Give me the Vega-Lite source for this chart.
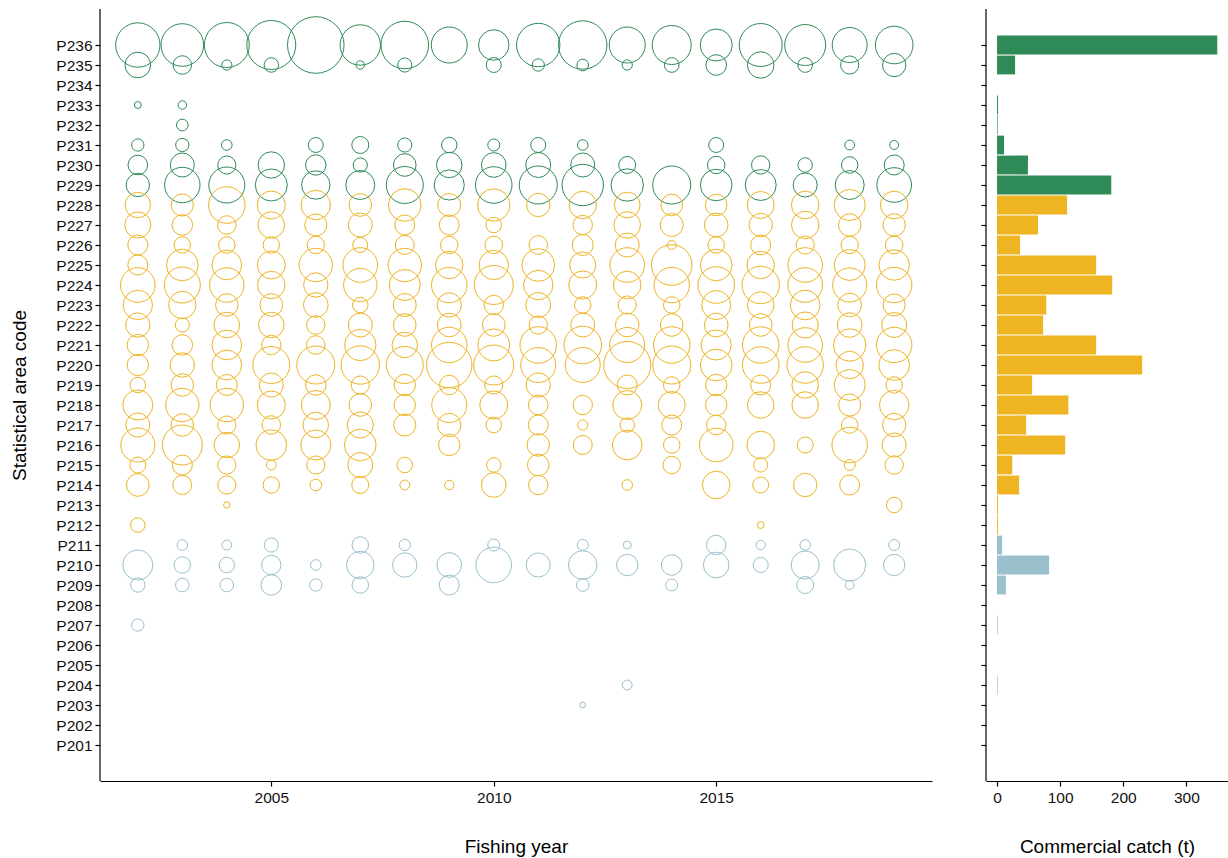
{
  "$schema": "https://vega.github.io/schema/vega-lite/v6.json",
  "background": "white",
  "padding": {"left": 10, "top": 8, "right": 1, "bottom": 1},
  "config": {
    "font": "Liberation Sans",
    "view": {"stroke": null},
    "axis": {
      "domainColor": "#000", "domainWidth": 1.2, "tickColor": "#000", "tickSize": 5, "tickWidth": 1.2,
      "labelColor": "#111", "labelFontSize": 15.5, "titleFontSize": 19, "titleFontWeight": "normal",
      "titleColor": "#000", "grid": false, "labelFont": "Liberation Sans", "titleFont": "Liberation Sans"
    }
  },
  "datasets": {
    "areas": [
      {"area": "P236", "total": 349, "g": "P229–P236"},
      {"area": "P235", "total": 28.6, "g": "P229–P236"},
      {"area": "P233", "total": 1.6, "g": "P229–P236"},
      {"area": "P232", "total": 1.0, "g": "P229–P236"},
      {"area": "P231", "total": 11, "g": "P229–P236"},
      {"area": "P230", "total": 49, "g": "P229–P236"},
      {"area": "P229", "total": 181, "g": "P229–P236"},
      {"area": "P228", "total": 111, "g": "P212–P228"},
      {"area": "P227", "total": 65, "g": "P212–P228"},
      {"area": "P226", "total": 36.5, "g": "P212–P228"},
      {"area": "P225", "total": 157, "g": "P212–P228"},
      {"area": "P224", "total": 182.5, "g": "P212–P228"},
      {"area": "P223", "total": 78, "g": "P212–P228"},
      {"area": "P222", "total": 73, "g": "P212–P228"},
      {"area": "P221", "total": 157, "g": "P212–P228"},
      {"area": "P220", "total": 230, "g": "P212–P228"},
      {"area": "P219", "total": 55.5, "g": "P212–P228"},
      {"area": "P218", "total": 113, "g": "P212–P228"},
      {"area": "P217", "total": 46, "g": "P212–P228"},
      {"area": "P216", "total": 108, "g": "P212–P228"},
      {"area": "P215", "total": 24, "g": "P212–P228"},
      {"area": "P214", "total": 35, "g": "P212–P228"},
      {"area": "P213", "total": 1.5, "g": "P212–P228"},
      {"area": "P212", "total": 1.5, "g": "P212–P228"},
      {"area": "P211", "total": 8, "g": "P201–P211"},
      {"area": "P210", "total": 82.5, "g": "P201–P211"},
      {"area": "P209", "total": 14, "g": "P201–P211"},
      {"area": "P207", "total": 1, "g": "P201–P211"},
      {"area": "P204", "total": 1, "g": "P201–P211"},
      {"area": "P203", "total": 0, "g": "P201–P211"}
    ],
    "annual": [
      {"year": 2002, "area": "P236", "catch": 24.6}, {"year": 2003, "area": "P236", "catch": 22.7}, {"year": 2004, "area": "P236", "catch": 25.3}, {"year": 2005, "area": "P236", "catch": 30.0}, {"year": 2006, "area": "P236", "catch": 40.0}, {"year": 2007, "area": "P236", "catch": 20.4}, {"year": 2008, "area": "P236", "catch": 28.3}, {"year": 2009, "area": "P236", "catch": 16.2}, {"year": 2010, "area": "P236", "catch": 11.6}, {"year": 2011, "area": "P236", "catch": 23.5}, {"year": 2012, "area": "P236", "catch": 29.3}, {"year": 2013, "area": "P236", "catch": 16.2}, {"year": 2014, "area": "P236", "catch": 19.0}, {"year": 2015, "area": "P236", "catch": 12.8}, {"year": 2016, "area": "P236", "catch": 23.1}, {"year": 2017, "area": "P236", "catch": 21.0}, {"year": 2018, "area": "P236", "catch": 15.3}, {"year": 2019, "area": "P236", "catch": 17.7},
      {"year": 2002, "area": "P235", "catch": 8.2}, {"year": 2003, "area": "P235", "catch": 4.3}, {"year": 2004, "area": "P235", "catch": 1.3}, {"year": 2005, "area": "P235", "catch": 2.6}, {"year": 2007, "area": "P235", "catch": 0.9}, {"year": 2008, "area": "P235", "catch": 2.5}, {"year": 2010, "area": "P235", "catch": 2.8}, {"year": 2011, "area": "P235", "catch": 1.9}, {"year": 2012, "area": "P235", "catch": 1.7}, {"year": 2013, "area": "P235", "catch": 1.3}, {"year": 2014, "area": "P235", "catch": 2.7}, {"year": 2015, "area": "P235", "catch": 5.3}, {"year": 2016, "area": "P235", "catch": 8.8}, {"year": 2017, "area": "P235", "catch": 2.7}, {"year": 2018, "area": "P235", "catch": 4.1}, {"year": 2019, "area": "P235", "catch": 6.8},
      {"year": 2002, "area": "P233", "catch": 0.6}, {"year": 2003, "area": "P233", "catch": 0.9},
      {"year": 2003, "area": "P232", "catch": 1.7},
      {"year": 2002, "area": "P231", "catch": 1.9}, {"year": 2003, "area": "P231", "catch": 2.2}, {"year": 2004, "area": "P231", "catch": 1.4}, {"year": 2006, "area": "P231", "catch": 2.8}, {"year": 2007, "area": "P231", "catch": 3.6}, {"year": 2008, "area": "P231", "catch": 2.5}, {"year": 2009, "area": "P231", "catch": 3.0}, {"year": 2010, "area": "P231", "catch": 1.8}, {"year": 2011, "area": "P231", "catch": 2.8}, {"year": 2012, "area": "P231", "catch": 1.4}, {"year": 2015, "area": "P231", "catch": 2.8}, {"year": 2018, "area": "P231", "catch": 1.2}, {"year": 2019, "area": "P231", "catch": 1.0},
      {"year": 2002, "area": "P230", "catch": 4.8}, {"year": 2003, "area": "P230", "catch": 7.2}, {"year": 2004, "area": "P230", "catch": 4.1}, {"year": 2005, "area": "P230", "catch": 8.7}, {"year": 2006, "area": "P230", "catch": 5.2}, {"year": 2007, "area": "P230", "catch": 2.5}, {"year": 2008, "area": "P230", "catch": 6.4}, {"year": 2009, "area": "P230", "catch": 8.1}, {"year": 2010, "area": "P230", "catch": 7.6}, {"year": 2011, "area": "P230", "catch": 7.8}, {"year": 2012, "area": "P230", "catch": 7.2}, {"year": 2013, "area": "P230", "catch": 3.6}, {"year": 2015, "area": "P230", "catch": 3.8}, {"year": 2016, "area": "P230", "catch": 4.2}, {"year": 2017, "area": "P230", "catch": 2.6}, {"year": 2018, "area": "P230", "catch": 3.4}, {"year": 2019, "area": "P230", "catch": 5.0},
      {"year": 2002, "area": "P229", "catch": 6.8}, {"year": 2003, "area": "P229", "catch": 15.7}, {"year": 2004, "area": "P229", "catch": 16.2}, {"year": 2005, "area": "P229", "catch": 12.8}, {"year": 2006, "area": "P229", "catch": 10.1}, {"year": 2007, "area": "P229", "catch": 10.5}, {"year": 2008, "area": "P229", "catch": 17.1}, {"year": 2009, "area": "P229", "catch": 11.3}, {"year": 2010, "area": "P229", "catch": 16.7}, {"year": 2011, "area": "P229", "catch": 18.1}, {"year": 2012, "area": "P229", "catch": 21.4}, {"year": 2013, "area": "P229", "catch": 13.1}, {"year": 2014, "area": "P229", "catch": 18.1}, {"year": 2015, "area": "P229", "catch": 12.5}, {"year": 2016, "area": "P229", "catch": 12.0}, {"year": 2017, "area": "P229", "catch": 7.2}, {"year": 2018, "area": "P229", "catch": 10.5}, {"year": 2019, "area": "P229", "catch": 15.0},
      {"year": 2002, "area": "P228", "catch": 8.1}, {"year": 2003, "area": "P228", "catch": 6.1}, {"year": 2004, "area": "P228", "catch": 16.7}, {"year": 2005, "area": "P228", "catch": 9.8}, {"year": 2006, "area": "P228", "catch": 10.8}, {"year": 2007, "area": "P228", "catch": 6.4}, {"year": 2008, "area": "P228", "catch": 13.3}, {"year": 2009, "area": "P228", "catch": 6.6}, {"year": 2010, "area": "P228", "catch": 13.1}, {"year": 2011, "area": "P228", "catch": 6.8}, {"year": 2012, "area": "P228", "catch": 9.4}, {"year": 2013, "area": "P228", "catch": 8.2}, {"year": 2014, "area": "P228", "catch": 5.8}, {"year": 2015, "area": "P228", "catch": 5.8}, {"year": 2016, "area": "P228", "catch": 9.1}, {"year": 2017, "area": "P228", "catch": 9.5}, {"year": 2018, "area": "P228", "catch": 12.0}, {"year": 2019, "area": "P228", "catch": 9.5},
      {"year": 2002, "area": "P227", "catch": 8.5}, {"year": 2003, "area": "P227", "catch": 5.3}, {"year": 2004, "area": "P227", "catch": 4.3}, {"year": 2005, "area": "P227", "catch": 8.8}, {"year": 2006, "area": "P227", "catch": 6.1}, {"year": 2007, "area": "P227", "catch": 7.2}, {"year": 2008, "area": "P227", "catch": 5.0}, {"year": 2009, "area": "P227", "catch": 5.0}, {"year": 2010, "area": "P227", "catch": 3.0}, {"year": 2012, "area": "P227", "catch": 4.7}, {"year": 2013, "area": "P227", "catch": 8.8}, {"year": 2014, "area": "P227", "catch": 6.6}, {"year": 2015, "area": "P227", "catch": 7.0}, {"year": 2016, "area": "P227", "catch": 6.8}, {"year": 2017, "area": "P227", "catch": 9.4}, {"year": 2018, "area": "P227", "catch": 6.3}, {"year": 2019, "area": "P227", "catch": 6.3},
      {"year": 2002, "area": "P226", "catch": 5.0}, {"year": 2003, "area": "P226", "catch": 3.4}, {"year": 2004, "area": "P226", "catch": 3.4}, {"year": 2005, "area": "P226", "catch": 3.4}, {"year": 2006, "area": "P226", "catch": 3.8}, {"year": 2007, "area": "P226", "catch": 2.8}, {"year": 2008, "area": "P226", "catch": 4.5}, {"year": 2009, "area": "P226", "catch": 3.8}, {"year": 2010, "area": "P226", "catch": 3.9}, {"year": 2011, "area": "P226", "catch": 4.3}, {"year": 2012, "area": "P226", "catch": 5.5}, {"year": 2013, "area": "P226", "catch": 7.2}, {"year": 2014, "area": "P226", "catch": 1.0}, {"year": 2015, "area": "P226", "catch": 3.4}, {"year": 2016, "area": "P226", "catch": 5.0}, {"year": 2017, "area": "P226", "catch": 4.1}, {"year": 2018, "area": "P226", "catch": 3.8}, {"year": 2019, "area": "P226", "catch": 3.9},
      {"year": 2002, "area": "P225", "catch": 5.0}, {"year": 2003, "area": "P225", "catch": 12.5}, {"year": 2004, "area": "P225", "catch": 11.0}, {"year": 2005, "area": "P225", "catch": 9.8}, {"year": 2006, "area": "P225", "catch": 13.9}, {"year": 2007, "area": "P225", "catch": 15.0}, {"year": 2008, "area": "P225", "catch": 13.9}, {"year": 2009, "area": "P225", "catch": 9.4}, {"year": 2010, "area": "P225", "catch": 10.8}, {"year": 2011, "area": "P225", "catch": 13.3}, {"year": 2012, "area": "P225", "catch": 8.5}, {"year": 2013, "area": "P225", "catch": 15.0}, {"year": 2014, "area": "P225", "catch": 20.6}, {"year": 2015, "area": "P225", "catch": 12.5}, {"year": 2016, "area": "P225", "catch": 9.4}, {"year": 2017, "area": "P225", "catch": 15.0}, {"year": 2018, "area": "P225", "catch": 12.0}, {"year": 2019, "area": "P225", "catch": 11.6},
      {"year": 2002, "area": "P224", "catch": 15.0}, {"year": 2003, "area": "P224", "catch": 16.2}, {"year": 2004, "area": "P224", "catch": 14.8}, {"year": 2005, "area": "P224", "catch": 9.4}, {"year": 2006, "area": "P224", "catch": 7.4}, {"year": 2007, "area": "P224", "catch": 13.9}, {"year": 2008, "area": "P224", "catch": 12.0}, {"year": 2009, "area": "P224", "catch": 15.7}, {"year": 2010, "area": "P224", "catch": 19.0}, {"year": 2011, "area": "P224", "catch": 10.8}, {"year": 2012, "area": "P224", "catch": 9.8}, {"year": 2013, "area": "P224", "catch": 9.5}, {"year": 2014, "area": "P224", "catch": 15.7}, {"year": 2015, "area": "P224", "catch": 16.7}, {"year": 2016, "area": "P224", "catch": 17.5}, {"year": 2017, "area": "P224", "catch": 15.0}, {"year": 2018, "area": "P224", "catch": 14.5}, {"year": 2019, "area": "P224", "catch": 15.7},
      {"year": 2002, "area": "P223", "catch": 10.8}, {"year": 2003, "area": "P223", "catch": 9.4}, {"year": 2004, "area": "P223", "catch": 6.3}, {"year": 2005, "area": "P223", "catch": 6.4}, {"year": 2006, "area": "P223", "catch": 7.6}, {"year": 2007, "area": "P223", "catch": 3.0}, {"year": 2008, "area": "P223", "catch": 6.6}, {"year": 2009, "area": "P223", "catch": 7.4}, {"year": 2010, "area": "P223", "catch": 4.7}, {"year": 2011, "area": "P223", "catch": 7.8}, {"year": 2012, "area": "P223", "catch": 3.4}, {"year": 2013, "area": "P223", "catch": 4.1}, {"year": 2014, "area": "P223", "catch": 3.4}, {"year": 2015, "area": "P223", "catch": 10.5}, {"year": 2016, "area": "P223", "catch": 8.8}, {"year": 2017, "area": "P223", "catch": 11.0}, {"year": 2018, "area": "P223", "catch": 7.0}, {"year": 2019, "area": "P223", "catch": 6.1},
      {"year": 2002, "area": "P222", "catch": 7.4}, {"year": 2003, "area": "P222", "catch": 2.5}, {"year": 2004, "area": "P222", "catch": 8.2}, {"year": 2005, "area": "P222", "catch": 8.1}, {"year": 2006, "area": "P222", "catch": 4.3}, {"year": 2007, "area": "P222", "catch": 7.2}, {"year": 2008, "area": "P222", "catch": 6.4}, {"year": 2009, "area": "P222", "catch": 7.0}, {"year": 2010, "area": "P222", "catch": 6.4}, {"year": 2011, "area": "P222", "catch": 4.2}, {"year": 2012, "area": "P222", "catch": 7.2}, {"year": 2013, "area": "P222", "catch": 7.0}, {"year": 2014, "area": "P222", "catch": 6.4}, {"year": 2015, "area": "P222", "catch": 7.0}, {"year": 2016, "area": "P222", "catch": 6.4}, {"year": 2017, "area": "P222", "catch": 8.5}, {"year": 2018, "area": "P222", "catch": 7.6}, {"year": 2019, "area": "P222", "catch": 7.8},
      {"year": 2002, "area": "P221", "catch": 5.7}, {"year": 2003, "area": "P221", "catch": 5.3}, {"year": 2004, "area": "P221", "catch": 11.0}, {"year": 2005, "area": "P221", "catch": 4.7}, {"year": 2006, "area": "P221", "catch": 4.3}, {"year": 2007, "area": "P221", "catch": 12.3}, {"year": 2008, "area": "P221", "catch": 8.1}, {"year": 2009, "area": "P221", "catch": 15.7}, {"year": 2010, "area": "P221", "catch": 12.8}, {"year": 2011, "area": "P221", "catch": 16.7}, {"year": 2012, "area": "P221", "catch": 17.7}, {"year": 2013, "area": "P221", "catch": 15.3}, {"year": 2014, "area": "P221", "catch": 16.7}, {"year": 2015, "area": "P221", "catch": 11.3}, {"year": 2016, "area": "P221", "catch": 16.6}, {"year": 2017, "area": "P221", "catch": 15.0}, {"year": 2018, "area": "P221", "catch": 13.1}, {"year": 2019, "area": "P221", "catch": 15.7},
      {"year": 2002, "area": "P220", "catch": 5.7}, {"year": 2003, "area": "P220", "catch": 7.4}, {"year": 2004, "area": "P220", "catch": 11.0}, {"year": 2005, "area": "P220", "catch": 17.1}, {"year": 2006, "area": "P220", "catch": 18.1}, {"year": 2007, "area": "P220", "catch": 18.4}, {"year": 2008, "area": "P220", "catch": 17.1}, {"year": 2009, "area": "P220", "catch": 25.8}, {"year": 2010, "area": "P220", "catch": 20.0}, {"year": 2011, "area": "P220", "catch": 15.3}, {"year": 2012, "area": "P220", "catch": 15.3}, {"year": 2013, "area": "P220", "catch": 27.6}, {"year": 2014, "area": "P220", "catch": 18.1}, {"year": 2015, "area": "P220", "catch": 12.5}, {"year": 2016, "area": "P220", "catch": 16.7}, {"year": 2017, "area": "P220", "catch": 16.7}, {"year": 2018, "area": "P220", "catch": 9.4}, {"year": 2019, "area": "P220", "catch": 11.7},
      {"year": 2002, "area": "P219", "catch": 3.0}, {"year": 2003, "area": "P219", "catch": 6.3}, {"year": 2004, "area": "P219", "catch": 5.5}, {"year": 2005, "area": "P219", "catch": 7.2}, {"year": 2006, "area": "P219", "catch": 5.2}, {"year": 2007, "area": "P219", "catch": 4.1}, {"year": 2008, "area": "P219", "catch": 5.7}, {"year": 2009, "area": "P219", "catch": 4.7}, {"year": 2010, "area": "P219", "catch": 4.1}, {"year": 2011, "area": "P219", "catch": 7.4}, {"year": 2013, "area": "P219", "catch": 5.0}, {"year": 2014, "area": "P219", "catch": 3.4}, {"year": 2015, "area": "P219", "catch": 5.7}, {"year": 2016, "area": "P219", "catch": 5.0}, {"year": 2017, "area": "P219", "catch": 8.8}, {"year": 2018, "area": "P219", "catch": 12.0}, {"year": 2019, "area": "P219", "catch": 3.4},
      {"year": 2002, "area": "P218", "catch": 11.3}, {"year": 2003, "area": "P218", "catch": 13.9}, {"year": 2004, "area": "P218", "catch": 13.9}, {"year": 2005, "area": "P218", "catch": 9.8}, {"year": 2006, "area": "P218", "catch": 10.5}, {"year": 2007, "area": "P218", "catch": 6.4}, {"year": 2008, "area": "P218", "catch": 5.7}, {"year": 2009, "area": "P218", "catch": 15.3}, {"year": 2010, "area": "P218", "catch": 9.8}, {"year": 2011, "area": "P218", "catch": 4.8}, {"year": 2012, "area": "P218", "catch": 4.7}, {"year": 2013, "area": "P218", "catch": 10.5}, {"year": 2014, "area": "P218", "catch": 9.1}, {"year": 2015, "area": "P218", "catch": 5.7}, {"year": 2016, "area": "P218", "catch": 8.8}, {"year": 2017, "area": "P218", "catch": 8.8}, {"year": 2018, "area": "P218", "catch": 6.1}, {"year": 2019, "area": "P218", "catch": 10.8},
      {"year": 2002, "area": "P217", "catch": 7.2}, {"year": 2003, "area": "P217", "catch": 6.3}, {"year": 2004, "area": "P217", "catch": 4.1}, {"year": 2005, "area": "P217", "catch": 4.3}, {"year": 2006, "area": "P217", "catch": 8.1}, {"year": 2007, "area": "P217", "catch": 8.5}, {"year": 2008, "area": "P217", "catch": 6.1}, {"year": 2009, "area": "P217", "catch": 6.8}, {"year": 2010, "area": "P217", "catch": 3.0}, {"year": 2011, "area": "P217", "catch": 5.0}, {"year": 2012, "area": "P217", "catch": 1.3}, {"year": 2013, "area": "P217", "catch": 2.6}, {"year": 2014, "area": "P217", "catch": 5.0}, {"year": 2015, "area": "P217", "catch": 4.7}, {"year": 2018, "area": "P217", "catch": 3.4}, {"year": 2019, "area": "P217", "catch": 6.8},
      {"year": 2002, "area": "P216", "catch": 14.5}, {"year": 2003, "area": "P216", "catch": 20.0}, {"year": 2004, "area": "P216", "catch": 8.1}, {"year": 2005, "area": "P216", "catch": 11.7}, {"year": 2006, "area": "P216", "catch": 11.3}, {"year": 2007, "area": "P216", "catch": 12.5}, {"year": 2009, "area": "P216", "catch": 5.7}, {"year": 2011, "area": "P216", "catch": 6.3}, {"year": 2012, "area": "P216", "catch": 4.5}, {"year": 2013, "area": "P216", "catch": 11.0}, {"year": 2014, "area": "P216", "catch": 3.4}, {"year": 2015, "area": "P216", "catch": 14.1}, {"year": 2016, "area": "P216", "catch": 9.5}, {"year": 2017, "area": "P216", "catch": 3.2}, {"year": 2018, "area": "P216", "catch": 15.7}, {"year": 2019, "area": "P216", "catch": 7.2},
      {"year": 2002, "area": "P215", "catch": 3.2}, {"year": 2003, "area": "P215", "catch": 5.0}, {"year": 2004, "area": "P215", "catch": 4.1}, {"year": 2005, "area": "P215", "catch": 1.2}, {"year": 2006, "area": "P215", "catch": 4.1}, {"year": 2007, "area": "P215", "catch": 7.8}, {"year": 2008, "area": "P215", "catch": 3.0}, {"year": 2010, "area": "P215", "catch": 2.6}, {"year": 2011, "area": "P215", "catch": 5.8}, {"year": 2014, "area": "P215", "catch": 3.8}, {"year": 2016, "area": "P215", "catch": 2.5}, {"year": 2018, "area": "P215", "catch": 1.5}, {"year": 2019, "area": "P215", "catch": 4.2},
      {"year": 2002, "area": "P214", "catch": 6.4}, {"year": 2003, "area": "P214", "catch": 4.5}, {"year": 2004, "area": "P214", "catch": 4.1}, {"year": 2005, "area": "P214", "catch": 3.4}, {"year": 2006, "area": "P214", "catch": 1.7}, {"year": 2007, "area": "P214", "catch": 3.6}, {"year": 2008, "area": "P214", "catch": 1.2}, {"year": 2009, "area": "P214", "catch": 1.1}, {"year": 2010, "area": "P214", "catch": 7.6}, {"year": 2011, "area": "P214", "catch": 4.7}, {"year": 2013, "area": "P214", "catch": 1.4}, {"year": 2015, "area": "P214", "catch": 9.5}, {"year": 2016, "area": "P214", "catch": 3.2}, {"year": 2017, "area": "P214", "catch": 6.8}, {"year": 2018, "area": "P214", "catch": 5.0},
      {"year": 2004, "area": "P213", "catch": 0.5}, {"year": 2019, "area": "P213", "catch": 3.0},
      {"year": 2002, "area": "P212", "catch": 2.6}, {"year": 2016, "area": "P212", "catch": 0.6},
      {"year": 2003, "area": "P211", "catch": 1.4}, {"year": 2004, "area": "P211", "catch": 1.2}, {"year": 2005, "area": "P211", "catch": 2.5}, {"year": 2007, "area": "P211", "catch": 3.4}, {"year": 2008, "area": "P211", "catch": 1.6}, {"year": 2010, "area": "P211", "catch": 1.8}, {"year": 2012, "area": "P211", "catch": 1.5}, {"year": 2013, "area": "P211", "catch": 0.8}, {"year": 2015, "area": "P211", "catch": 4.7}, {"year": 2016, "area": "P211", "catch": 1.1}, {"year": 2017, "area": "P211", "catch": 1.4}, {"year": 2019, "area": "P211", "catch": 1.5},
      {"year": 2002, "area": "P210", "catch": 11.3}, {"year": 2003, "area": "P210", "catch": 3.4}, {"year": 2004, "area": "P210", "catch": 3.0}, {"year": 2005, "area": "P210", "catch": 4.7}, {"year": 2006, "area": "P210", "catch": 1.4}, {"year": 2007, "area": "P210", "catch": 9.4}, {"year": 2008, "area": "P210", "catch": 7.4}, {"year": 2009, "area": "P210", "catch": 7.6}, {"year": 2010, "area": "P210", "catch": 15.8}, {"year": 2011, "area": "P210", "catch": 7.2}, {"year": 2012, "area": "P210", "catch": 10.2}, {"year": 2013, "area": "P210", "catch": 5.7}, {"year": 2014, "area": "P210", "catch": 5.3}, {"year": 2015, "area": "P210", "catch": 8.2}, {"year": 2016, "area": "P210", "catch": 2.8}, {"year": 2017, "area": "P210", "catch": 9.8}, {"year": 2018, "area": "P210", "catch": 12.8}, {"year": 2019, "area": "P210", "catch": 5.7},
      {"year": 2002, "area": "P209", "catch": 2.6}, {"year": 2003, "area": "P209", "catch": 2.3}, {"year": 2004, "area": "P209", "catch": 2.3}, {"year": 2005, "area": "P209", "catch": 5.3}, {"year": 2006, "area": "P209", "catch": 1.9}, {"year": 2007, "area": "P209", "catch": 3.4}, {"year": 2009, "area": "P209", "catch": 5.0}, {"year": 2012, "area": "P209", "catch": 2.0}, {"year": 2014, "area": "P209", "catch": 1.8}, {"year": 2017, "area": "P209", "catch": 3.6}, {"year": 2018, "area": "P209", "catch": 1.0},
      {"year": 2002, "area": "P207", "catch": 1.9},
      {"year": 2013, "area": "P204", "catch": 1.2},
      {"year": 2012, "area": "P203", "catch": 0.4}
    ]
  },
  "spacing": 48,
  "hconcat": [
    {
      "width": 832,
      "height": 772,
      "layer": [
        {
          "data": {"name": "annual"},
          "transform": [
            {"lookup": "area", "from": {"data": {"name": "areas"}, "key": "area", "fields": ["g"]}}
          ],
          "mark": {"type": "point", "shape": "circle", "filled": false, "strokeWidth": 1, "opacity": 1},
          "encoding": {
            "x": {
              "field": "year", "type": "quantitative",
              "scale": {"domain": [2001.15, 2019.85], "nice": false, "zero": false},
              "axis": {"values": [2005, 2010, 2015], "format": "d", "title": "Fishing year", "labelPadding": 4, "titlePadding": 32}
            },
            "y": {
              "field": "area", "type": "nominal",
              "scale": {"type": "point", "padding": 0, "range": [36, 736], "domain": ["P236","P235","P234","P233","P232","P231","P230","P229","P228","P227","P226","P225","P224","P223","P222","P221","P220","P219","P218","P217","P216","P215","P214","P213","P212","P211","P210","P209","P208","P207","P206","P205","P204","P203","P202","P201"]},
              "axis": {"title": "Statistical area code", "labelPadding": 3, "titlePadding": 26, "domain": false}
            },
            "size": {
              "field": "catch", "type": "quantitative",
              "scale": {"type": "linear", "domain": [0, 50], "range": [0, 4000], "zero": true},
              "legend": null
            },
            "color": {
              "field": "g", "type": "nominal",
              "scale": {"domain": ["P229–P236", "P212–P228", "P201–P211"], "range": ["#2E8B57", "#EEB422", "#9AC0CD"]},
              "legend": null
            }
          }
        },
        {
          "data": {"values": [{"edge": 2001.15}]},
          "mark": {"type": "rule", "color": "#000", "strokeWidth": 1.2},
          "encoding": {"x": {"field": "edge", "type": "quantitative"}}
        }
      ]
    },
    {
      "width": 242,
      "height": 772,
      "layer": [
        {
          "data": {"name": "areas"},
          "mark": {"type": "bar"},
          "encoding": {
            "x": {
              "field": "total", "type": "quantitative",
              "scale": {"domain": [-17.5, 366], "nice": false, "zero": false},
              "axis": {"values": [0, 100, 200, 300], "title": "Commercial catch (t)", "labelPadding": 4, "titlePadding": 32}
            },
            "y": {
              "field": "area", "type": "nominal",
              "scale": {"type": "band", "paddingInner": 0.06, "paddingOuter": 0, "range": [26.6, 745.4], "domain": ["P236","P235","P234","P233","P232","P231","P230","P229","P228","P227","P226","P225","P224","P223","P222","P221","P220","P219","P218","P217","P216","P215","P214","P213","P212","P211","P210","P209","P208","P207","P206","P205","P204","P203","P202","P201"]},
              "axis": {"title": null, "labels": false, "domain": false}
            },
            "color": {
              "field": "g", "type": "nominal",
              "scale": {"domain": ["P229–P236", "P212–P228", "P201–P211"], "range": ["#2E8B57", "#EEB422", "#9AC0CD"]},
              "legend": null
            }
          }
        },
        {
          "data": {"values": [{"edge": -17.5}]},
          "mark": {"type": "rule", "color": "#000", "strokeWidth": 1.2},
          "encoding": {"x": {"field": "edge", "type": "quantitative"}}
        }
      ]
    }
  ]
}
